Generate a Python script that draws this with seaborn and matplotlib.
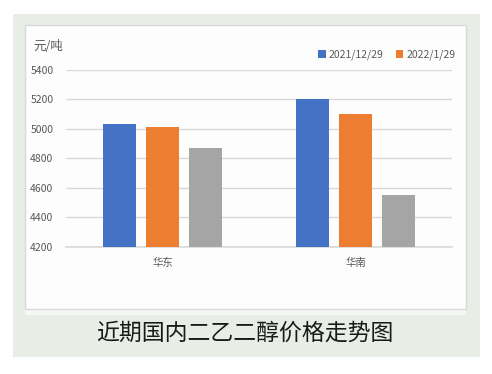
import seaborn as sns
import pandas as pd
import matplotlib.pyplot as plt
from matplotlib.patches import Rectangle

regions = ['华东', '华南']
dates = ['2021/12/29', '2022/1/29', '近期']
price_1229 = [5035, 5200]
price_0129 = [5015, 5100]
price_now = [4870, 4550]
colors = ['#4472C4', '#ED7D31', '#A5A5A5']
yticks = [4200, 4400, 4600, 4800, 5000, 5200, 5400]

rows = []
for d, vals in zip(dates, [price_1229, price_0129, price_now]):
    for r, v in zip(regions, vals):
        rows.append({'region': r, 'date': d, 'price': v})
df = pd.DataFrame(rows)

sns.set_style('white')
plt.rcParams['font.family'] = ['Noto Sans CJK SC', 'DejaVu Sans']

W, H = 492, 374
fig = plt.figure(figsize=(W / 100, H / 100), dpi=100)
fig.patch.set_facecolor('white')

# green frame and white chart box
fig.add_artist(Rectangle((13 / W, 1 - 357 / H), 467 / W, 343 / H,
                         transform=fig.transFigure, facecolor='#e8ede6',
                         edgecolor='none', zorder=0))
fig.add_artist(Rectangle((25 / W, 1 - 315 / H), 441 / W, 290 / H,
                         transform=fig.transFigure, facecolor='#f7f8f6',
                         edgecolor='none', zorder=0.5))
fig.add_artist(Rectangle((25 / W, 1 - 309 / H), 441 / W, 284 / H,
                         transform=fig.transFigure, facecolor='#fdfdfd',
                         edgecolor='#d9d9d9', linewidth=1, zorder=1))

ax = fig.add_axes([66 / W, 1 - 246.7 / H, 386 / W, 176.7 / H])
ax.set_facecolor('none')
ax.set_zorder(2)

sns.barplot(data=df, x='region', y='price', hue='date', hue_order=dates,
            order=regions, palette=colors, saturation=1, width=0.668, gap=0.233,
            ax=ax, legend=False, edgecolor='none', zorder=3)

ax.set_ylim(4200, 5400)
ax.set_yticks(yticks)
ax.set_yticklabels([str(t) for t in yticks])
ax.yaxis.grid(True, color='#d9d9d9', linewidth=1)
ax.set_axisbelow(True)
for s in ['top', 'right', 'left']:
    ax.spines[s].set_visible(False)
ax.spines['bottom'].set_color('#d9d9d9')
ax.spines['bottom'].set_linewidth(1.2)
ax.tick_params(axis='y', length=0, pad=9, labelsize=7.5, labelcolor='#595959')
ax.tick_params(axis='x', length=0, pad=8, labelsize=7.5, labelcolor='#595959')
ax.set_xlabel('')
ax.set_ylabel('')

fig.text(33 / W, 1 - 47 / H, '元/吨', fontsize=9, color='#595959',
         ha='left', va='center', zorder=5)

ax.legend(handles=ax.containers[:2], labels=dates[:2], loc='center left',
          bbox_to_anchor=(313 / W, 1 - 55 / H), bbox_transform=fig.transFigure,
          frameon=False, fontsize=7.5, labelcolor='#595959',
          handlelength=0.7, handleheight=0.7, handletextpad=0.3,
          columnspacing=1.2, ncol=2, borderpad=0)

fig.text(245 / W, 1 - 333 / H, '近期国内二乙二醇价格走势图', fontsize=16.5,
         color='#1a1a1a', ha='center', va='center', zorder=5)

fig.savefig('out.png', dpi=100)
